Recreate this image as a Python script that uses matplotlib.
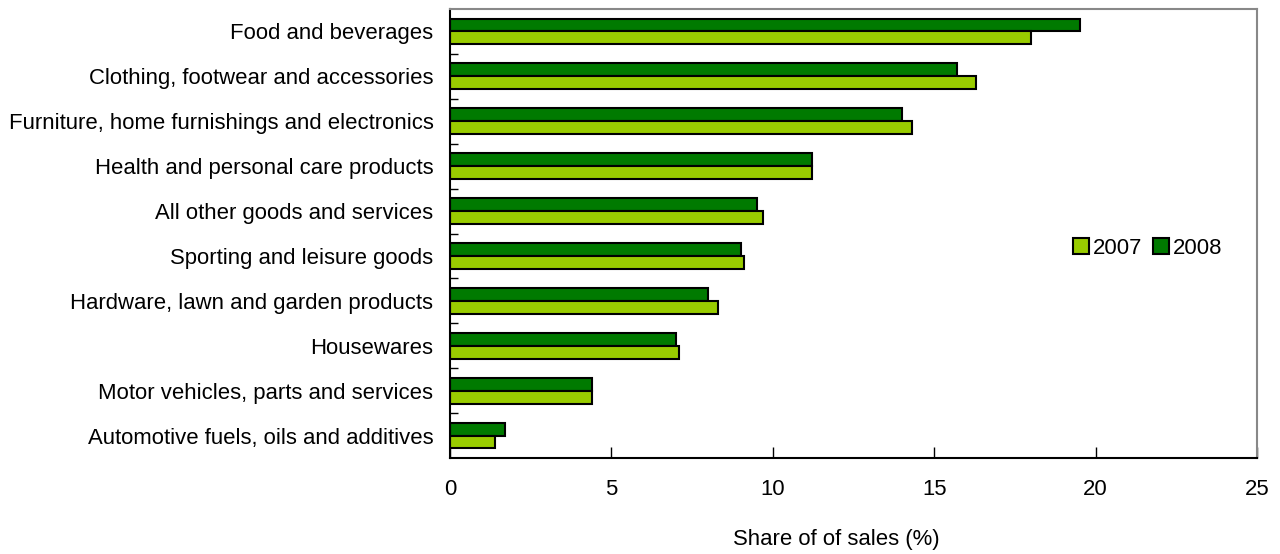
import numpy as np
import matplotlib
matplotlib.use("Agg")
import matplotlib.pyplot as plt
from matplotlib.ticker import FixedLocator

plt.rcParams['font.family'] = ['Liberation Sans', 'DejaVu Sans']

categories = [
    "Food and beverages",
    "Clothing, footwear and accessories",
    "Furniture, home furnishings and electronics",
    "Health and personal care products",
    "All other goods and services",
    "Sporting and leisure goods",
    "Hardware, lawn and garden products",
    "Housewares",
    "Motor vehicles, parts and services",
    "Automotive fuels, oils and additives",
]
share_2007 = [18.0, 16.3, 14.3, 11.2, 9.7, 9.1, 8.3, 7.1, 4.4, 1.4]
share_2008 = [19.5, 15.7, 14.0, 11.2, 9.5, 9.0, 8.0, 7.0, 4.4, 1.7]

light = '#99CC00'
dark = '#007A00'
fs = 15.9

fig = plt.figure(figsize=(12.8, 5.54), dpi=100)
ax = fig.add_axes([0.3516, 0.173, 0.6305, 0.811])

y = np.arange(len(categories))
h = 0.285
ax.barh(y - h / 2, share_2008, height=h, color=dark, edgecolor='black',
        linewidth=1.5, label='2008')
ax.barh(y + h / 2, share_2007, height=h, color=light, edgecolor='black',
        linewidth=1.5, label='2007')

ax.set_ylim(len(categories) - 0.5, -0.5)
ax.set_xlim(0, 25)
ax.set_xticks([0, 5, 10, 15, 20, 25])
ax.set_yticks(y)
ax.set_yticklabels(categories, fontsize=fs)
ax.yaxis.set_minor_locator(FixedLocator(np.arange(0.5, len(categories) - 1, 1)))
ax.tick_params(axis='y', which='major', length=0, pad=12)
ax.tick_params(axis='y', which='minor', direction='in', length=6, width=1)
ax.tick_params(axis='x', which='major', direction='in', length=8, width=1,
               pad=15, labelsize=fs)

for s in ['top', 'right']:
    ax.spines[s].set_color('#888888')
    ax.spines[s].set_linewidth(1.5)
for s in ['left', 'bottom']:
    ax.spines[s].set_color('black')
    ax.spines[s].set_linewidth(1.5)

ax.set_xlabel('Share of of sales (%)', fontsize=fs)
ax.xaxis.set_label_coords(0.478, -0.158)

handles, labels = ax.get_legend_handles_labels()
fig.legend(handles[::-1], labels[::-1], loc='center left',
           bbox_to_anchor=(0.828, 0.552), ncol=2, frameon=False,
           fontsize=fs, handlelength=0.7, handleheight=0.7,
           handletextpad=0.2, columnspacing=0.5, borderpad=0.1)

fig.savefig('out.png', dpi=100)
